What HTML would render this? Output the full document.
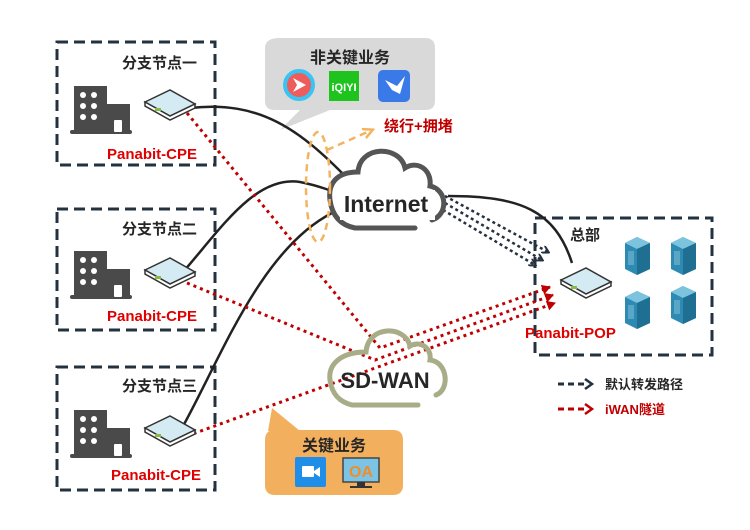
<!DOCTYPE html>
<html><head><meta charset="utf-8"><style>
html,body{margin:0;padding:0;background:#fff;}
svg{display:block;font-family:"Liberation Sans","Noto Sans CJK SC",sans-serif;}
</style></head><body>
<svg width="750" height="530" viewBox="0 0 750 530" xmlns="http://www.w3.org/2000/svg">
<defs>
<marker id="an" markerWidth="8" markerHeight="8" refX="6" refY="4" orient="auto" markerUnits="userSpaceOnUse"><path d="M0,0 L7,4 L0,8" fill="none" stroke="#243240" stroke-width="2"/></marker>
<marker id="ar" markerWidth="10" markerHeight="10" refX="8" refY="5" orient="auto" markerUnits="userSpaceOnUse"><path d="M0,0 L9,5 L0,10 Z" fill="#c00000"/></marker>
<marker id="ao" markerWidth="12" markerHeight="12" refX="9" refY="6" orient="auto" markerUnits="userSpaceOnUse"><path d="M0,1 L10,6 L0,11" fill="none" stroke="#f4b35e" stroke-width="2.5"/></marker>
<g id="router"><path d="M-25,-2 L0,-14 L25,0 L0,12 Z" fill="#d5ebf3" stroke="#333" stroke-width="1.5"/><path d="M-25,-2 L-25,2 L0,16 L25,4 L25,0 L0,12 Z" fill="#fff" stroke="#333" stroke-width="1.5"/><rect x="-15" y="4" width="6" height="3" fill="#8b4"/></g>
<g id="bldg" fill="#4a4a4a"><rect x="0" y="0" width="33" height="48"/><rect x="28" y="18" width="28" height="30"/><rect x="-4" y="44" width="62" height="4" rx="2"/><g fill="#fff"><circle cx="9" cy="9" r="3"/><circle cx="20" cy="9" r="3"/><circle cx="9" cy="20" r="3"/><circle cx="20" cy="20" r="3"/><circle cx="9" cy="31" r="3"/><circle cx="20" cy="31" r="3"/><rect x="40" y="34" width="8" height="12" rx="1"/></g></g>
<g id="srv"><path d="M0,6 L12,0 L25,6 L25,32 L12,38 L0,32 Z" fill="#2d8bb3"/><path d="M0,6 L12,12 L25,6 L12,0 Z" fill="#7cc4de"/><path d="M12,12 L25,6 L25,32 L12,38 Z" fill="#1f6f92"/><rect x="3" y="14" width="6" height="14" fill="#5aa6c6"/></g>
</defs>

<g fill="none" stroke="#243240" stroke-width="3" stroke-dasharray="11,6">
<rect x="57" y="42" width="158" height="123"/>
<rect x="57" y="209" width="158" height="121"/>
<rect x="57" y="367" width="158" height="123"/>
<rect x="535" y="218" width="177" height="137"/>
</g>

<path d="M280,38 H425 Q435,38 435,48 V101 Q435,110 425,110 H330 L280,130 L300,110 H275 Q265,110 265,101 V48 Q265,38 280,38 Z" fill="#d9d9d9"/>
<text x="350" y="63" font-size="16" font-weight="bold" text-anchor="middle" fill="#262626">非关键业务</text>
<circle cx="299" cy="85" r="14" fill="#ef5c5c" stroke="#39c4f4" stroke-width="4"/><path d="M293,78 L306,85 L293,92 L297,85 Z" fill="#fff"/>
<rect x="329" y="71" width="30" height="30" fill="#1ec31e"/><text x="344" y="91" font-size="11" text-anchor="middle" fill="#fff" font-weight="bold">iQIYI</text>
<rect x="378" y="70" width="32" height="32" rx="5" fill="#3a7ae8"/><path d="M385,80 L397,86 L405,76 L400,94 L392,90 Z" fill="#fff"/>

<path d="M275,430 H393 Q403,430 403,440 V485 Q403,495 393,495 H275 Q265,495 265,485 V440 Q265,430 275,430 Z" fill="#f2b05e"/>
<path d="M272,408 L300,431 L268,431 Z" fill="#f2b05e"/>
<text x="334" y="451" font-size="16" font-weight="bold" text-anchor="middle" fill="#262626">关键业务</text>
<rect x="295" y="457" width="31" height="30" rx="2" fill="#1f8ee8"/><rect x="302" y="466" width="12" height="11" rx="1" fill="#fff"/><path d="M314,471 L320,467 L320,477 L314,473 Z" fill="#fff"/>
<rect x="343" y="458" width="36" height="24" fill="#7cc4e6" stroke="#444" stroke-width="1.5"/><text x="361" y="477" font-size="16" text-anchor="middle" fill="#f28c28" font-weight="bold">OA</text><rect x="357" y="482" width="8" height="4" fill="#333"/><rect x="350" y="486" width="22" height="2" fill="#333"/>

<g fill="none" stroke="#222" stroke-width="2.5">
<path d="M190,108 C260,100 300,130 347,178"/>
<path d="M183,272 C220,230 255,175 300,182 C320,186 335,192 340,195"/>
<path d="M182,428 C220,360 260,250 332,213"/>
<path d="M448,196 C520,196 555,210 572,263"/>
</g>

<g fill="none" stroke="#c00000" stroke-width="3" stroke-dasharray="3,4">
<path d="M187,113 L380,348 L550,287" marker-end="url(#ar)"/>
<path d="M187,283 L375,360 L553,295" marker-end="url(#ar)"/>
<path d="M187,436 L555,303" marker-end="url(#ar)"/>
</g>
<g fill="none" stroke="#243240" stroke-width="2.5" stroke-dasharray="3,3">
<path d="M445,196 L548,252" marker-end="url(#an)"/>
<path d="M445,203 L542,260" marker-end="url(#an)"/>
<path d="M443,210 L535,265" marker-end="url(#an)"/>
</g>

<path d="M355,228 H415 M432,220 C448,215 448,190 430,186 C432,170 418,160 405,168 C400,145 360,145 358,172 C335,172 328,185 330,200 C332,215 340,225 355,228" fill="#fff" stroke="#555" stroke-width="5" stroke-linecap="round"/>
<rect x="340" y="190" width="95" height="30" fill="#fff"/>
<text x="386" y="212" font-size="23" font-weight="bold" text-anchor="middle" fill="#262626">Internet</text>

<path d="M352,405 H418 M436,395 C450,390 448,362 430,360 C432,348 420,340 410,346 C405,325 368,325 366,352 C340,352 328,365 330,380 C332,395 340,402 352,405" fill="none" stroke="#a8ad87" stroke-width="5" stroke-linecap="round"/>
<text x="385" y="388" font-size="22" font-weight="bold" text-anchor="middle" fill="#262626">SD-WAN</text>

<ellipse cx="318" cy="187" rx="12" ry="55" fill="none" stroke="#f4b35e" stroke-width="2.5" stroke-dasharray="7,5"/>
<path d="M327,150 L372,130" fill="none" stroke="#f4b35e" stroke-width="2.5" stroke-dasharray="7,5" marker-end="url(#ao)"/>
<text x="384" y="131" font-size="15" font-weight="bold" fill="#c00000">绕行+拥堵</text>

<use href="#router" x="170" y="104"/>
<use href="#router" x="170" y="272"/>
<use href="#router" x="170" y="430"/>
<use href="#router" x="586" y="282"/>
<use href="#bldg" x="74" y="86"/>
<use href="#bldg" x="74" y="251"/>
<use href="#bldg" x="74" y="410"/>
<use href="#srv" x="625" y="237"/>
<use href="#srv" x="671" y="237"/>
<use href="#srv" x="625" y="291"/>
<use href="#srv" x="671" y="286"/>

<g font-size="15" font-weight="bold" fill="#262626">
<text x="122" y="68">分支节点一</text>
<text x="122" y="234">分支节点二</text>
<text x="122" y="391">分支节点三</text>
<text x="570" y="240">总部</text>
</g>
<g font-size="15" font-weight="bold" fill="#e00000">
<text x="107" y="159">Panabit-CPE</text>
<text x="107" y="321">Panabit-CPE</text>
<text x="111" y="480">Panabit-CPE</text>
<text x="525" y="338">Panabit-POP</text>
</g>

<path d="M558,384 H585" stroke="#243240" stroke-width="3" stroke-dasharray="6,4"/>
<path d="M585,379 L592,384 L585,389" fill="none" stroke="#243240" stroke-width="2.5"/>
<text x="605" y="389" font-size="13" font-weight="bold" fill="#262626">默认转发路径</text>
<path d="M558,409 H585" stroke="#c00000" stroke-width="3" stroke-dasharray="6,4"/>
<path d="M585,404 L592,409 L585,414" fill="none" stroke="#c00000" stroke-width="2.5"/>
<text x="605" y="414" font-size="13" font-weight="bold" fill="#c00000">iWAN隧道</text>
</svg>
</body></html>
